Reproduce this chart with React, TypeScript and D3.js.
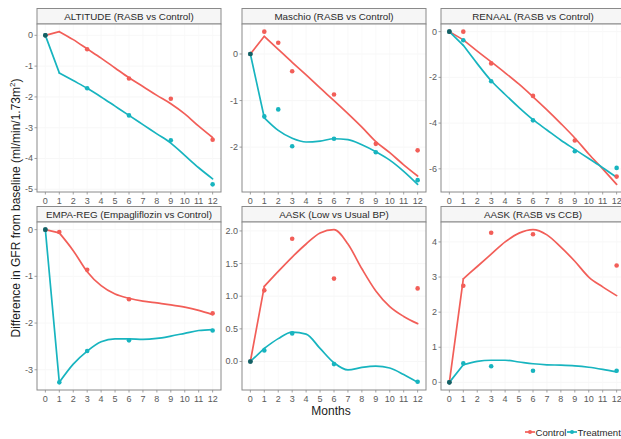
import React from 'react';
import * as d3 from 'd3';

// ---------- data ----------
const xTicks = [0, 1, 2, 3, 4, 5, 6, 7, 8, 9, 10, 11, 12];
const fitMonths = [0, 1, 2, 3, 4, 5, 6, 7, 8, 9, 10, 11, 12];

const panelTitles = [
  'ALTITUDE (RASB vs Control)',
  'Maschio (RASB vs Control)',
  'RENAAL (RASB vs Control)',
  'EMPA-REG (Empagliflozin vs Control)',
  'AASK (Low vs Usual BP)',
  'AASK (RASB vs CCB)',
];

// ALTITUDE
const altitudeControlFit = [0, 0.12, -0.14, -0.44, -0.74, -1.06, -1.38, -1.66, -1.95, -2.22, -2.55, -2.95, -3.32];
const altitudeTreatmentFit = [0, -1.22, -1.47, -1.72, -2.0, -2.3, -2.6, -2.9, -3.2, -3.5, -3.9, -4.3, -4.66];
const altitudeObsMonths = [0, 3, 6, 9, 12];
const altitudeControlObs = [0, -0.45, -1.4, -2.06, -3.39];
const altitudeTreatmentObs = [0, -1.72, -2.6, -3.41, -4.84];
const altitudeYTicks = [0, -1, -2, -3, -4, -5];

// Maschio
const maschioControlFit = [0, 0.38, 0.1, -0.18, -0.45, -0.73, -1.0, -1.28, -1.57, -1.88, -2.12, -2.38, -2.62];
const maschioTreatmentFit = [0, -1.37, -1.64, -1.81, -1.89, -1.87, -1.82, -1.84, -1.95, -2.1, -2.28, -2.52, -2.8];
const maschioObsMonths = [0, 1, 2, 3, 6, 9, 12];
const maschioControlObs = [0, 0.48, 0.24, -0.37, -0.87, -1.93, -2.07];
const maschioTreatmentObs = [0, -1.34, -1.19, -1.98, -1.82, -2.11, -2.71];
const maschioYTicks = [0, -1, -2];

// RENAAL
const renaalControlFit = [0, -0.36, -0.85, -1.32, -1.8, -2.3, -2.85, -3.42, -4.02, -4.65, -5.35, -6.0, -6.68];
const renaalTreatmentFit = [0, -0.6, -1.4, -2.15, -2.75, -3.32, -3.85, -4.3, -4.75, -5.15, -5.55, -5.95, -6.37];
const renaalObsMonths = [0, 1, 3, 6, 9, 12];
const renaalControlObs = [0, 0, -1.39, -2.81, -4.76, -6.34];
const renaalTreatmentObs = [0, -0.38, -2.17, -3.88, -5.23, -5.96];
const renaalYTicks = [0, -2, -4, -6];

// EMPA-REG
const empaControlFit = [0, -0.07, -0.45, -0.9, -1.2, -1.38, -1.47, -1.53, -1.57, -1.61, -1.66, -1.73, -1.82];
const empaTreatmentFit = [0, -3.27, -2.88, -2.6, -2.4, -2.34, -2.34, -2.35, -2.33, -2.28, -2.22, -2.16, -2.14];
const empaObsMonths = [0, 1, 3, 6, 12];
const empaControlObs = [0, -0.05, -0.86, -1.49, -1.79];
const empaTreatmentObs = [0, -3.27, -2.6, -2.37, -2.16];
const empaYTicks = [0, -1, -2, -3];

// AASK (Low vs Usual BP)
const aaskBpControlFit = [0, 1.15, 1.38, 1.6, 1.8, 1.97, 2.02, 1.8, 1.42, 1.08, 0.84, 0.69, 0.58];
const aaskBpTreatmentFit = [0, 0.2, 0.35, 0.45, 0.42, 0.2, -0.02, -0.13, -0.09, -0.07, -0.1, -0.2, -0.32];
const aaskBpObsMonths = [0, 1, 3, 6, 12];
const aaskBpControlObs = [0, 1.09, 1.88, 1.27, 1.12];
const aaskBpTreatmentObs = [0, 0.17, 0.43, -0.04, -0.31];
const aaskBpYTicks = [0, 0.5, 1.0, 1.5, 2.0];

// AASK (RASB vs CCB)
const aaskCcbControlFit = [0, 2.95, 3.3, 3.65, 4.0, 4.25, 4.35, 4.2, 3.85, 3.45, 3.0, 2.72, 2.47];
const aaskCcbTreatmentFit = [0, 0.5, 0.6, 0.63, 0.63, 0.58, 0.53, 0.5, 0.49, 0.47, 0.43, 0.37, 0.3];
const aaskCcbObsMonths = [0, 1, 3, 6, 12];
const aaskCcbControlObs = [0, 2.75, 4.26, 4.22, 3.33];
const aaskCcbTreatmentObs = [0, 0.54, 0.46, 0.33, 0.33];
const aaskCcbYTicks = [0, 1, 2, 3, 4];

const seriesNames = ['Control', 'Treatment'];

// ---------- styling / layout ----------
const W = 621;
const H = 439;
const colors = ['#F25E58', '#17B4BF'];
const colLeft = [37, 242, 441];
const panelW = 184;
const stripH = 15.5;
const plotTop = [24, 222];
const plotH = 168;
const font = '"Liberation Sans", Arial, Helvetica, sans-serif';

const panels = [
  { cf: altitudeControlFit, tf: altitudeTreatmentFit, om: altitudeObsMonths, co: altitudeControlObs, to: altitudeTreatmentObs, yt: altitudeYTicks, fmt: (d: number) => String(d) },
  { cf: maschioControlFit, tf: maschioTreatmentFit, om: maschioObsMonths, co: maschioControlObs, to: maschioTreatmentObs, yt: maschioYTicks, fmt: (d: number) => String(d) },
  { cf: renaalControlFit, tf: renaalTreatmentFit, om: renaalObsMonths, co: renaalControlObs, to: renaalTreatmentObs, yt: renaalYTicks, fmt: (d: number) => String(d) },
  { cf: empaControlFit, tf: empaTreatmentFit, om: empaObsMonths, co: empaControlObs, to: empaTreatmentObs, yt: empaYTicks, fmt: (d: number) => String(d) },
  { cf: aaskBpControlFit, tf: aaskBpTreatmentFit, om: aaskBpObsMonths, co: aaskBpControlObs, to: aaskBpTreatmentObs, yt: aaskBpYTicks, fmt: d3.format('.1f') },
  { cf: aaskCcbControlFit, tf: aaskCcbTreatmentFit, om: aaskCcbObsMonths, co: aaskCcbControlObs, to: aaskCcbTreatmentObs, yt: aaskCcbYTicks, fmt: (d: number) => String(d) },
];

function Panel({ i }: { i: number }) {
  const p = panels[i];
  const row = Math.floor(i / 3);
  const col = i % 3;
  const x0 = colLeft[col];
  const y0 = plotTop[row];
  const all = [...p.cf, ...p.tf, ...p.co, ...p.to];
  const mn = d3.min(all) as number;
  const mx = d3.max(all) as number;
  const ex = (mx - mn) * 0.05;
  const x = d3.scaleLinear().domain([-0.6, 12.6]).range([x0, x0 + panelW]);
  const y = d3.scaleLinear().domain([mn - ex, mx + ex]).range([y0 + plotH, y0]);
  type Pt = [number, number];
  const straight = d3
    .line<Pt>()
    .x((d) => x(d[0]))
    .y((d) => y(d[1]));
  const smooth = d3
    .line<Pt>()
    .x((d) => x(d[0]))
    .y((d) => y(d[1]))
    .curve(d3.curveMonotoneX);
  const fits = [p.cf, p.tf];
  const obs = [p.co, p.to];
  return (
    <g>
      {/* strip */}
      <rect x={x0} y={y0 - stripH} width={panelW} height={stripH} fill="#f6f6f6" stroke="#8a8a8a" strokeWidth={1} />
      <text x={x0 + panelW / 2} y={y0 - stripH / 2 + 0.5} textAnchor="middle" dominantBaseline="central" fontSize={9.8} fill="#2a2a2a" fontFamily={font}>
        {panelTitles[i]}
      </text>
      {/* panel bg */}
      <rect x={x0} y={y0} width={panelW} height={plotH} fill="#ffffff" />
      {p.yt.map((t) => (
        <line key={'gy' + t} x1={x0} x2={x0 + panelW} y1={y(t)} y2={y(t)} stroke="#f5f5f5" strokeWidth={0.8} />
      ))}
      {xTicks.map((t) => (
        <line key={'gx' + t} x1={x(t)} x2={x(t)} y1={y0} y2={y0 + plotH} stroke="#f7f7f7" strokeWidth={0.8} />
      ))}
      {/* fitted lines: straight from baseline to month 1, smooth afterwards */}
      {fits.map((f, s) => {
        const pts: Pt[] = f.map((v, k) => [fitMonths[k], v]);
        return (
          <g key={'l' + s}>
            <path d={straight(pts.slice(0, 2)) as string} fill="none" stroke={colors[s]} strokeWidth={1.7} strokeLinecap="round" />
            <path d={smooth(pts.slice(1)) as string} fill="none" stroke={colors[s]} strokeWidth={1.7} strokeLinecap="round" strokeLinejoin="round" />
          </g>
        );
      })}
      {/* observed points */}
      {obs.map((o, s) =>
        o.map((v, k) => <circle key={'p' + s + '-' + k} cx={x(p.om[k])} cy={y(v)} r={2.3} fill={colors[s]} />)
      )}
      <circle cx={x(0)} cy={y(0)} r={2.3} fill="#155f63" />
      <rect x={x0} y={y0} width={panelW} height={plotH} fill="none" stroke="#8a8a8a" strokeWidth={1} />
      {/* y axis */}
      {p.yt.map((t) => (
        <g key={'yt' + t}>
          <line x1={x0 - 2.5} x2={x0} y1={y(t)} y2={y(t)} stroke="#8a8a8a" strokeWidth={0.8} />
          <text x={x0 - 4} y={y(t)} textAnchor="end" dominantBaseline="central" fontSize={9} fill="#5a5a5a" fontFamily={font}>
            {p.fmt(t)}
          </text>
        </g>
      ))}
      {/* x axis */}
      {xTicks.map((t) => (
        <g key={'xt' + t}>
          <line x1={x(t)} x2={x(t)} y1={y0 + plotH} y2={y0 + plotH + 2.5} stroke="#8a8a8a" strokeWidth={0.8} />
          <text x={x(t)} y={y0 + plotH + 8.5} textAnchor="middle" dominantBaseline="central" fontSize={9} fill="#5a5a5a" fontFamily={font}>
            {t}
          </text>
        </g>
      ))}
    </g>
  );
}

export default function App() {
  const legendX = [525, 567];
  return (
    <div style={{ position: 'absolute', left: 0, top: 0 }}>
      <svg width={W} height={H} viewBox={`0 0 ${W} ${H}`} style={{ display: 'block', background: '#ffffff' }}>
        <rect x={0} y={0} width={W} height={H} fill="#ffffff" />
        {panels.map((_, i) => (
          <Panel key={i} i={i} />
        ))}
        <text
          transform="translate(16,208) rotate(-90)"
          textAnchor="middle"
          dominantBaseline="central"
          fontSize={12}
          fill="#1a1a1a"
          fontFamily={font}
        >
          Difference in GFR from baseline (ml/min/1.73m
          <tspan dy={-4} fontSize={8}>2</tspan>
          <tspan dy={4}>)</tspan>
        </text>
        <text x={331} y={411} textAnchor="middle" dominantBaseline="central" fontSize={12} fill="#1a1a1a" fontFamily={font}>
          Months
        </text>
        {seriesNames.map((n, s) => (
          <g key={n}>
            <line x1={legendX[s]} x2={legendX[s] + 10} y1={432} y2={432} stroke={colors[s]} strokeWidth={1.7} />
            <circle cx={legendX[s] + 5} cy={432} r={2} fill={colors[s]} />
            <text x={legendX[s] + 10.5} y={432} dominantBaseline="central" fontSize={9.6} fill="#2a2a2a" fontFamily={font}>
              {n}
            </text>
          </g>
        ))}
      </svg>
    </div>
  );
}
